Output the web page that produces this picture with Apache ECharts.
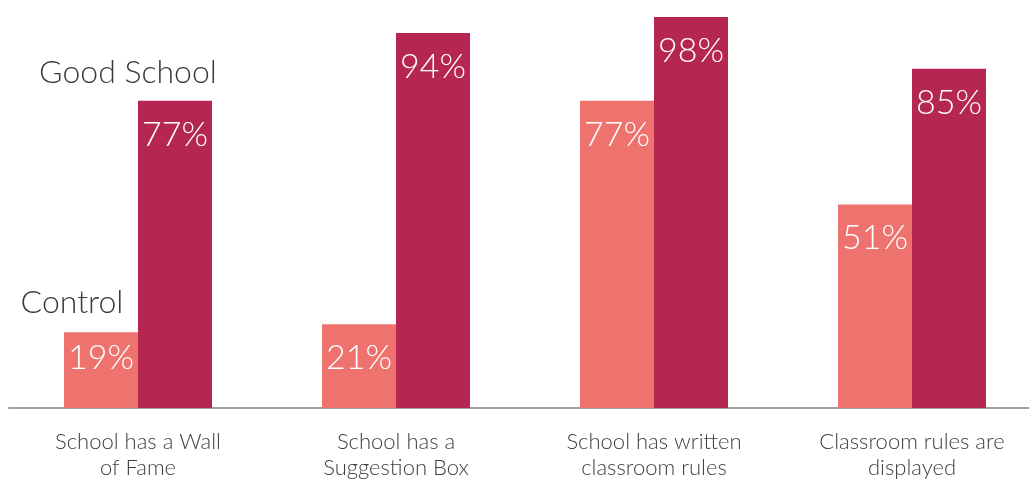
<!DOCTYPE html>
<html>
<head>
<meta charset="utf-8">
<script src="https://cdn.jsdelivr.net/npm/echarts@6/dist/echarts.min.js"></script>
<style>
  html, body { margin: 0; padding: 0; background: #fff; }
  #chart { width: 1029px; height: 481px; }
</style>
</head>
<body>
<div id="chart"></div>
<script>
// School practices, share of schools (%) by group
const categories = [
  'School has a Wall\nof Fame',
  'School has a\nSuggestion Box',
  'School has written\nclassroom rules',
  'Classroom rules are\ndisplayed'
];
const controlValues = [19, 21, 77, 51];
const goodSchoolValues = [77, 94, 98, 85];

const FONT = 'Lato';
const valueLabel = {
  show: true,
  position: 'insideTop',
  distance: 17,
  color: '#ffffff',
  fontFamily: FONT,
  fontWeight: 300,
  fontSize: 34,
  formatter: p => p.value + '%'
};

// the shortest bar keeps its label a little closer to its top edge
const controlData = controlValues.map((v, i) =>
  i === 0 ? { value: v, label: { distance: 9 } } : v
);

function nameMarker(values, offset) {
  return {
    symbol: 'circle',
    symbolSize: 0,
    silent: true,
    data: [{ coord: [0, values[0]] }],
    label: {
      show: true,
      position: 'inside',
      offset: offset,
      formatter: '{a}',
      color: '#3a3a3a',
      fontFamily: FONT,
      fontWeight: 300,
      fontSize: 32
    }
  };
}

const chart = echarts.init(document.getElementById('chart'));
chart.setOption({
  animation: false,
  grid: {
    left: 9, top: 9, width: 1032, height: 399,
    outerBoundsMode: 'none'
  },
  xAxis: {
    type: 'category',
    data: categories,
    axisLine: { lineStyle: { color: '#a0a0a0', width: 2 } },
    axisTick: { show: false },
    axisLabel: {
      margin: 21,
      color: '#404040',
      fontFamily: FONT,
      fontWeight: 300,
      fontSize: 22,
      lineHeight: 26
    }
  },
  yAxis: { type: 'value', min: 0, max: 100, show: false },
  series: [
    {
      name: 'Control',
      type: 'bar',
      data: controlData,
      barWidth: 74,
      barGap: '0%',
      itemStyle: { color: '#ee736e' },
      label: valueLabel,
      markPoint: nameMarker(controlValues, [-29, -30])
    },
    {
      name: 'Good School',
      type: 'bar',
      data: goodSchoolValues,
      barWidth: 74,
      barGap: '0%',
      itemStyle: { color: '#b52650' },
      label: valueLabel,
      markPoint: nameMarker(goodSchoolValues, [-47, -28])
    }
  ]
});
</script>
</body>
</html>
